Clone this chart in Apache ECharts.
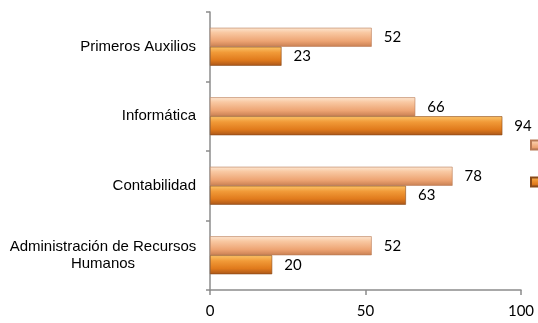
<!DOCTYPE html>
<html>
<head>
<meta charset="utf-8">
<script src="https://cdn.jsdelivr.net/npm/echarts@6/dist/echarts.min.js"></script>
<style>html,body{margin:0;padding:0;background:#fff}#c{width:538px;height:323px}</style>
</head>
<body>
<div id="c"></div>
<script>
const categories = ['Primeros Auxilios', 'Informática', 'Contabilidad', 'Administración de Recursos Humanos'];
const seriesNames = ['Serie 1', 'Serie 2'];
const valuesLight = [52, 66, 78, 52];
const valuesDark = [23, 94, 63, 20];
const xTicks = [0, 50, 100];

const chart = echarts.init(document.getElementById('c'), null, {renderer: 'canvas'});
const lightGrad = new echarts.graphic.LinearGradient(0, 0, 0, 1, [
  {offset: 0, color: '#fde7d2'},
  {offset: 0.25, color: '#f9c9a3'},
  {offset: 0.7, color: '#eda473'},
  {offset: 1, color: '#c97f52'}
]);
const darkGrad = new echarts.graphic.LinearGradient(0, 0, 0, 1, [
  {offset: 0, color: '#fbc46a'},
  {offset: 0.3, color: '#f19a38'},
  {offset: 0.7, color: '#e07a1c'},
  {offset: 1, color: '#a9561a'}
]);
const labelStyle = {show: true, position: 'right', distance: 12, color: '#000', fontFamily: 'Lato', fontSize: 15};
chart.setOption({
  animation: false,
  grid: {left: 210, right: 17, top: 12, bottom: 33, containLabel: false},
  legend: {
    orient: 'vertical', left: 530, top: 139, padding: 0, itemWidth: 9, itemHeight: 9, itemGap: 25,
    icon: 'rect', textStyle: {fontSize: 12, lineHeight: 12, fontFamily: 'Lato'},
    data: seriesNames
  },
  xAxis: {
    type: 'value', min: xTicks[0], max: xTicks[xTicks.length - 1], interval: 50,
    axisLine: {show: true, lineStyle: {color: '#8c8c8c', width: 1.5}},
    axisTick: {show: true, length: 5, lineStyle: {color: '#8c8c8c', width: 1.5}},
    splitLine: {show: false},
    axisLabel: {color: '#000', fontFamily: 'Lato', fontSize: 15, margin: 14}
  },
  yAxis: {
    type: 'category', data: categories, inverse: true,
    axisLine: {show: true, lineStyle: {color: '#8c8c8c', width: 1.5}},
    axisTick: {show: true, length: 4, lineStyle: {color: '#8c8c8c', width: 1.5}},
    axisLabel: {
      color: '#000', fontFamily: 'Liberation Sans', fontSize: 15, margin: 14,
      formatter: function (v) {
        if (v.indexOf('Recursos') >= 0) {
          return '{c|Administración de Recursos}\n{c|Humanos}';
        }
        return v;
      },
      rich: {c: {align: 'center', width: 186, fontFamily: 'Liberation Sans', fontSize: 15, color: '#000', lineHeight: 17}}
    }
  },
  series: [
    {name: seriesNames[0], type: 'bar', data: valuesLight, barWidth: 19, barGap: '0%',
     itemStyle: {color: lightGrad, borderColor: '#b87a55', borderWidth: 0.6}, label: labelStyle},
    {name: seriesNames[1], type: 'bar', data: valuesDark, barWidth: 19, barGap: '0%',
     itemStyle: {color: darkGrad, borderColor: '#8a4a18', borderWidth: 0.6}, label: labelStyle}
  ]
});
</script>
</body>
</html>
